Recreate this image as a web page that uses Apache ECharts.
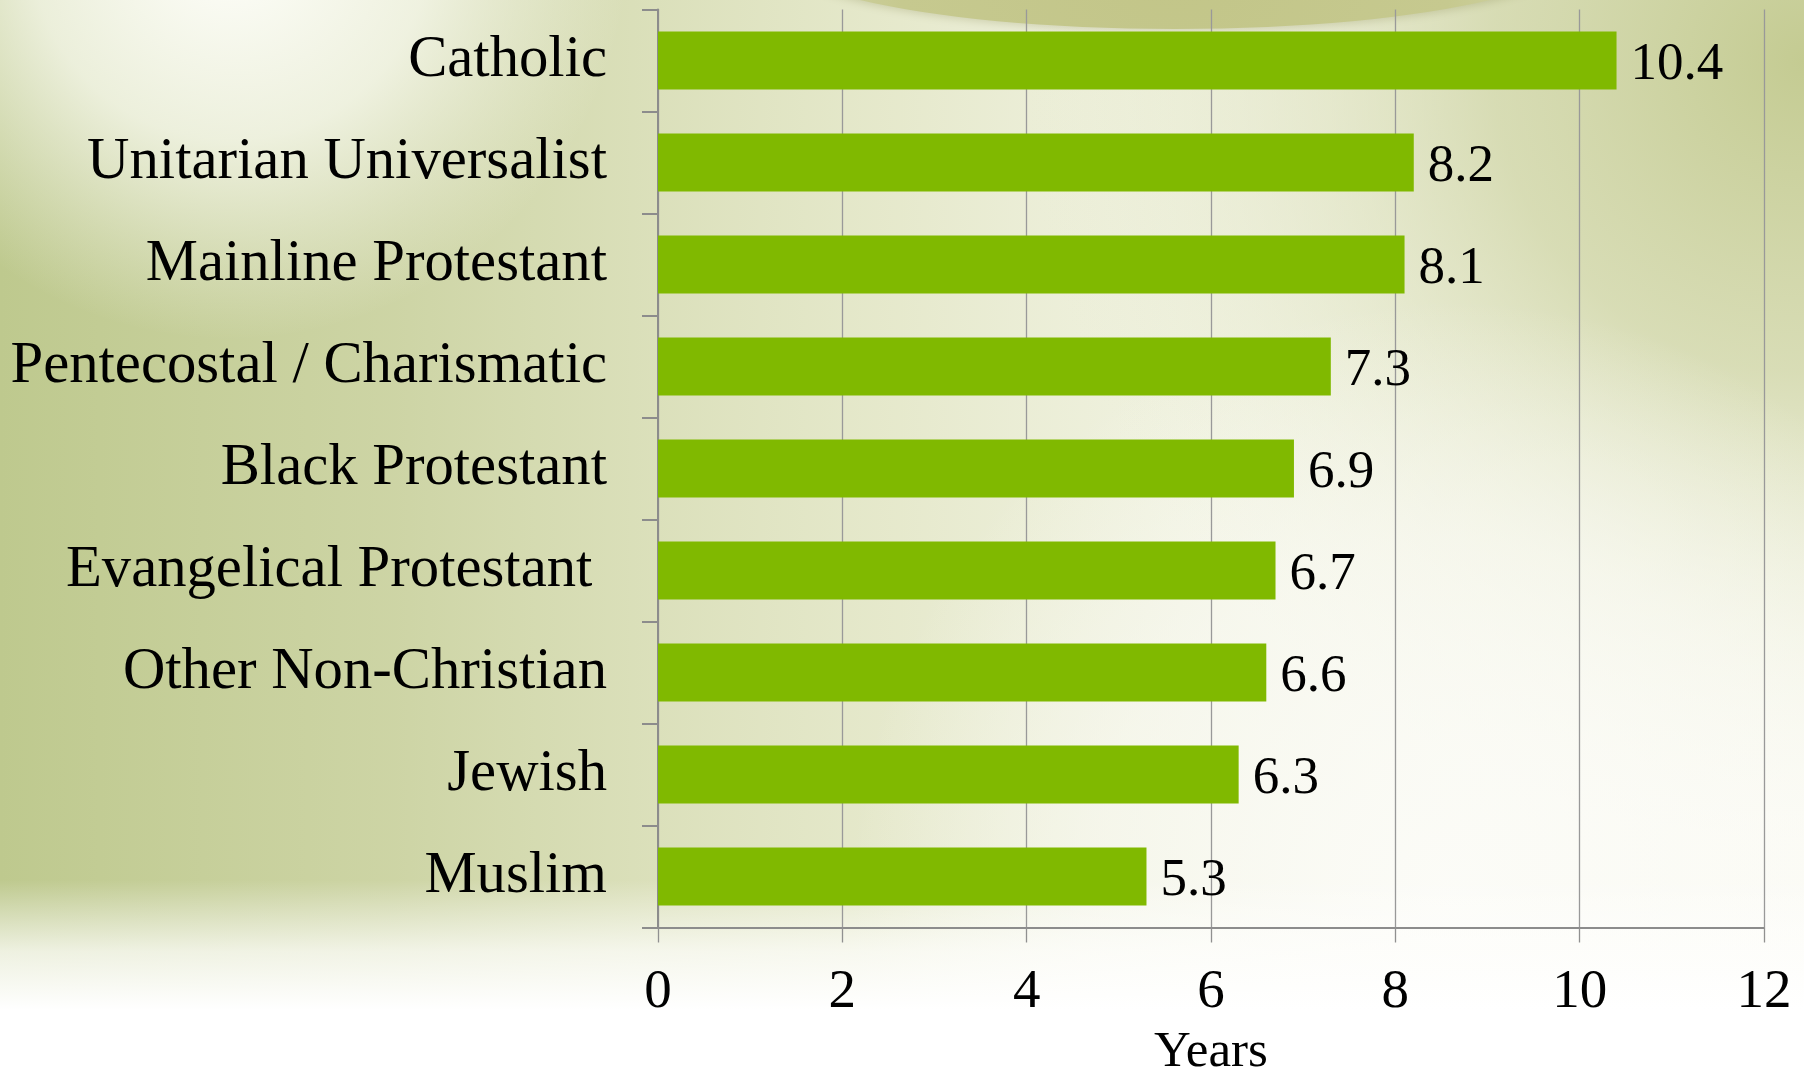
<!DOCTYPE html>
<html><head><meta charset="utf-8">
<script src="https://cdn.jsdelivr.net/npm/echarts@6/dist/echarts.min.js"></script>
<style>html,body{margin:0;padding:0;background:#fff}#c{width:1804px;height:1072px}</style>
</head><body><div id="c"></div>
<script>
const categories = ['Catholic', 'Unitarian Universalist', 'Mainline Protestant', 'Pentecostal / Charismatic', 'Black Protestant', 'Evangelical Protestant ', 'Other Non-Christian', 'Jewish', 'Muslim'];
const years = [10.4, 8.2, 8.1, 7.3, 6.9, 6.7, 6.6, 6.3, 5.3];
const xMin = 0, xMax = 12, xInterval = 2;
const axisName = 'Years';

const FONT = '"Liberation Serif", "Times New Roman", serif';
const W = 1804, H = 1072;
const G = echarts.graphic;

const chart = echarts.init(document.getElementById('c'), null, {renderer: 'canvas'});
chart.setOption({
  backgroundColor: '#fdfdf8',
  animation: false,
  graphic: {
    elements: [
      { type: 'rect', z: -100, silent: true, shape: {x: 0, y: 0, width: W, height: H},
        style: { fill: new G.LinearGradient(0, 0, W, 0, [
          {offset: 0, color: 'rgba(190,201,142,1)'},
          {offset: 0.22, color: 'rgba(200,208,156,0.9)'},
          {offset: 0.5, color: 'rgba(216,221,178,0.62)'},
          {offset: 0.8, color: 'rgba(234,237,214,0.32)'},
          {offset: 1, color: 'rgba(250,250,245,0)'}], true) } },
      { type: 'rect', z: -99, silent: true, shape: {x: 0, y: 0, width: W, height: H},
        style: { fill: new G.RadialGradient(1804, 60, 780, [
          {offset: 0, color: 'rgba(196,203,146,1)'},
          {offset: 0.4, color: 'rgba(204,210,160,0.75)'},
          {offset: 1, color: 'rgba(230,233,205,0)'}], true) } },
      { type: 'rect', z: -98, silent: true, shape: {x: 0, y: 0, width: W, height: H},
        style: { fill: new G.RadialGradient(230, -60, 400, [
          {offset: 0, color: 'rgba(255,255,252,1)'},
          {offset: 0.5, color: 'rgba(250,251,243,0.75)'},
          {offset: 1, color: 'rgba(245,246,235,0)'}], true) } },
      { type: 'rect', z: -97, silent: true, shape: {x: 0, y: 0, width: W, height: H},
        style: { fill: new G.RadialGradient(1450, 900, 600, [
          {offset: 0, color: 'rgba(252,252,248,0.95)'},
          {offset: 0.6, color: 'rgba(250,250,244,0.6)'},
          {offset: 1, color: 'rgba(250,250,244,0)'}], true) } },
      { type: 'rect', z: -96, silent: true, shape: {x: 0, y: 880, width: W, height: H - 880},
        style: { fill: new G.LinearGradient(0, 880, 0, 1010, [
          {offset: 0, color: 'rgba(255,255,255,0)'},
          {offset: 0.55, color: 'rgba(254,254,252,0.75)'},
          {offset: 1, color: 'rgba(255,255,255,1)'}], true) } },
      { type: 'ellipse', z: -95, silent: true, shape: {cx: 1175, cy: -49, rx: 405, ry: 78},
        style: { fill: new G.RadialGradient(1175, -60, 400, [
          {offset: 0, color: '#c2c588'},
          {offset: 0.7, color: '#c6c98f'},
          {offset: 1, color: '#d3d6a8'}], true),
          shadowBlur: 8, shadowColor: 'rgba(120,120,60,0.25)', shadowOffsetY: 2 } }
    ]
  },
  grid: { left: 658, right: 40, top: 9.5, bottom: 144.5, containLabel: false, outerBoundsMode: 'none' },
  xAxis: {
    type: 'value', min: xMin, max: xMax, interval: xInterval,
    name: axisName, nameLocation: 'middle', nameGap: 100,
    nameTextStyle: { fontFamily: FONT, fontSize: 51, color: '#000' },
    axisLine: { show: true, lineStyle: { color: '#8c8c8c', width: 2 } },
    axisTick: { show: true, length: 15, lineStyle: { color: '#909090', width: 1.3 } },
    axisLabel: { fontFamily: FONT, fontSize: 55, color: '#000', margin: 38 },
    splitLine: { show: true, lineStyle: { color: '#999999', width: 1.3 } }
  },
  yAxis: {
    type: 'category', data: categories, inverse: true,
    axisLine: { show: true, lineStyle: { color: '#8c8c8c', width: 2 } },
    axisTick: { show: true, length: 16, lineStyle: { color: '#8c8c8c', width: 2 } },
    axisLabel: { fontFamily: FONT, fontSize: 58.7, color: '#000', margin: 51, padding: [7, 0, 0, 0] },
    splitLine: { show: false }
  },
  series: [{
    type: 'bar', data: years, barWidth: '57%',
    itemStyle: { color: '#80b900' },
    label: { show: true, position: 'right', distance: 14, fontFamily: FONT, fontSize: 53, color: '#000', offset: [0, 5] }
  }]
});
</script></body></html>
